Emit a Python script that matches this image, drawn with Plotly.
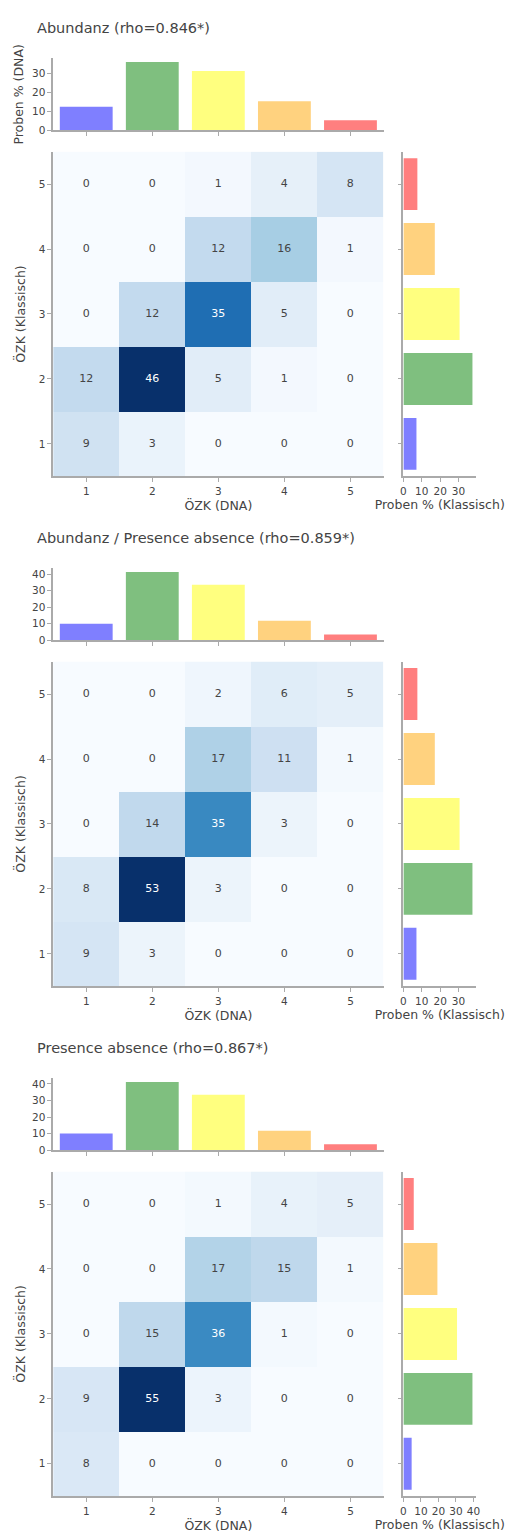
import plotly.graph_objects as go

W, H = 499, 1532   # page has an 8px body margin around the figure
PAGE_OFF = 8

categories = [1, 2, 3, 4, 5]
bar_colors = ["rgba(0,0,255,0.5)", "rgba(0,128,0,0.5)", "rgba(255,255,0,0.5)",
              "rgba(255,165,0,0.5)", "rgba(255,0,0,0.5)"]

titles = ["Abundanz (rho=0.846*)",
          "Abundanz / Presence absence (rho=0.859*)",
          "Presence absence (rho=0.867*)"]

# heatmap counts, rows = ÖZK (Klassisch) 1..5, columns = ÖZK (DNA) 1..5
z_abundanz = [[9, 3, 0, 0, 0],
              [12, 46, 5, 1, 0],
              [0, 12, 35, 5, 0],
              [0, 0, 12, 16, 1],
              [0, 0, 1, 4, 8]]
z_abund_pa = [[9, 3, 0, 0, 0],
              [8, 53, 3, 0, 0],
              [0, 14, 35, 3, 0],
              [0, 0, 17, 11, 1],
              [0, 0, 2, 6, 5]]
z_pa = [[8, 0, 0, 0, 0],
        [9, 55, 3, 0, 0],
        [0, 15, 36, 1, 0],
        [0, 0, 17, 15, 1],
        [0, 0, 1, 4, 5]]

# marginal percentages (Proben %)
top_abundanz = [12.4, 35.9, 31.2, 15.3, 5.3]
right_abundanz = [7.1, 37.6, 30.6, 17.1, 7.6]
top_abund_pa = [10.0, 41.2, 33.5, 11.8, 3.5]
right_abund_pa = [7.1, 37.6, 30.6, 17.1, 7.6]
top_pa = [10.0, 41.2, 33.5, 11.8, 3.5]
right_pa = [4.7, 39.4, 30.6, 19.4, 5.9]

panels = [(z_abundanz, top_abundanz, right_abundanz),
          (z_abund_pa, top_abund_pa, right_abund_pa),
          (z_pa, top_pa, right_pa)]

FONT = "DejaVu Sans"
LINE = "#aaaaaa"
TXT = "#444444"

def fx(px):
    return (px - PAGE_OFF) / W

def fy(px):
    return 1 - (px - PAGE_OFF) / H

fig = go.Figure()
layout = {}
annotations = []

axis_common = dict(showline=True, linecolor=LINE, linewidth=1.5, ticks="outside",
                   tickcolor=LINE, ticklen=4, showgrid=False, zeroline=False,
                   tickfont=dict(size=10.5, color=TXT, family=FONT))

PERIOD = 512.3

for i, (z, top, right) in enumerate(panels):
    off = i * PERIOD
    n = 3 * i
    ax_top, ax_hm, ax_rt = n + 1, n + 2, n + 3
    def nm(k):
        return "" if k == 1 else str(k)

    fig.add_trace(go.Bar(x=categories, y=top, marker=dict(color=bar_colors, line=dict(width=0)),
                         xaxis="x" + nm(ax_top), yaxis="y" + nm(ax_top), showlegend=False))
    fig.add_trace(go.Heatmap(x=categories, y=categories, z=z, colorscale="Blues", zmin=0,
                             showscale=False, texttemplate="%{z}",
                             textfont=dict(size=11, family=FONT),
                             xaxis="x" + nm(ax_hm), yaxis="y" + nm(ax_hm)))
    fig.add_trace(go.Bar(y=categories, x=right, orientation="h",
                         marker=dict(color=bar_colors, line=dict(width=0)),
                         xaxis="x" + nm(ax_rt), yaxis="y" + nm(ax_rt), showlegend=False))

    hm_top, hm_bot = 151.3 + off, 477.5 + off
    tb_top, tb_bot = 57.7 + off, 129.8 + off

    layout["xaxis" + nm(ax_top)] = dict(axis_common, domain=[fx(50.8), fx(385.8)], range=[0.5, 5.5],
                                        showticklabels=False, anchor="y" + nm(ax_top),
                                        tickvals=categories)
    layout["yaxis" + nm(ax_top)] = dict(axis_common, domain=[fy(tb_bot), fy(tb_top)],
                                        anchor="x" + nm(ax_top), dtick=10,
                                        title=dict(text="Proben % (DNA)" if i == 0 else "",
                                                   font=dict(size=12.5, color=TXT, family=FONT),
                                                   standoff=6))
    layout["xaxis" + nm(ax_hm)] = dict(axis_common, domain=[fx(50.8), fx(385.8)], range=[0.5, 5.5],
                                       tickvals=categories, anchor="y" + nm(ax_hm),
                                       title=dict(text="ÖZK (DNA)",
                                                  font=dict(size=12.5, color=TXT, family=FONT),
                                                  standoff=4))
    layout["yaxis" + nm(ax_hm)] = dict(axis_common, domain=[fy(hm_bot), fy(hm_top)], range=[0.5, 5.5],
                                       tickvals=categories, anchor="x" + nm(ax_hm),
                                       title=dict(text="ÖZK (Klassisch)",
                                                  font=dict(size=12.5, color=TXT, family=FONT),
                                                  standoff=10))
    layout["xaxis" + nm(ax_rt)] = dict(axis_common, domain=[fx(406), fx(479.7)],
                                       anchor="y" + nm(ax_rt), dtick=10,
                                       title=dict(text="Proben % (Klassisch)",
                                                  font=dict(size=12.5, color=TXT, family=FONT),
                                                  standoff=4))
    layout["yaxis" + nm(ax_rt)] = dict(axis_common, domain=[fy(hm_bot), fy(hm_top)], range=[0.5, 5.5],
                                       tickvals=categories, showticklabels=False,
                                       anchor="x" + nm(ax_rt))

    annotations.append(dict(text=titles[i], xref="paper", yref="paper",
                            x=fx(32), y=fy(27.3 + off), xanchor="left", yanchor="middle",
                            showarrow=False, font=dict(size=14.5, color=TXT, family=FONT)))

fig.update_layout(**layout)
fig.update_layout(width=W, height=H, margin=dict(l=0, r=0, t=0, b=0),
                  paper_bgcolor="white", plot_bgcolor="white",
                  font=dict(family=FONT, color=TXT), bargap=0.2,
                  annotations=annotations)

fig.write_html("out.html")
